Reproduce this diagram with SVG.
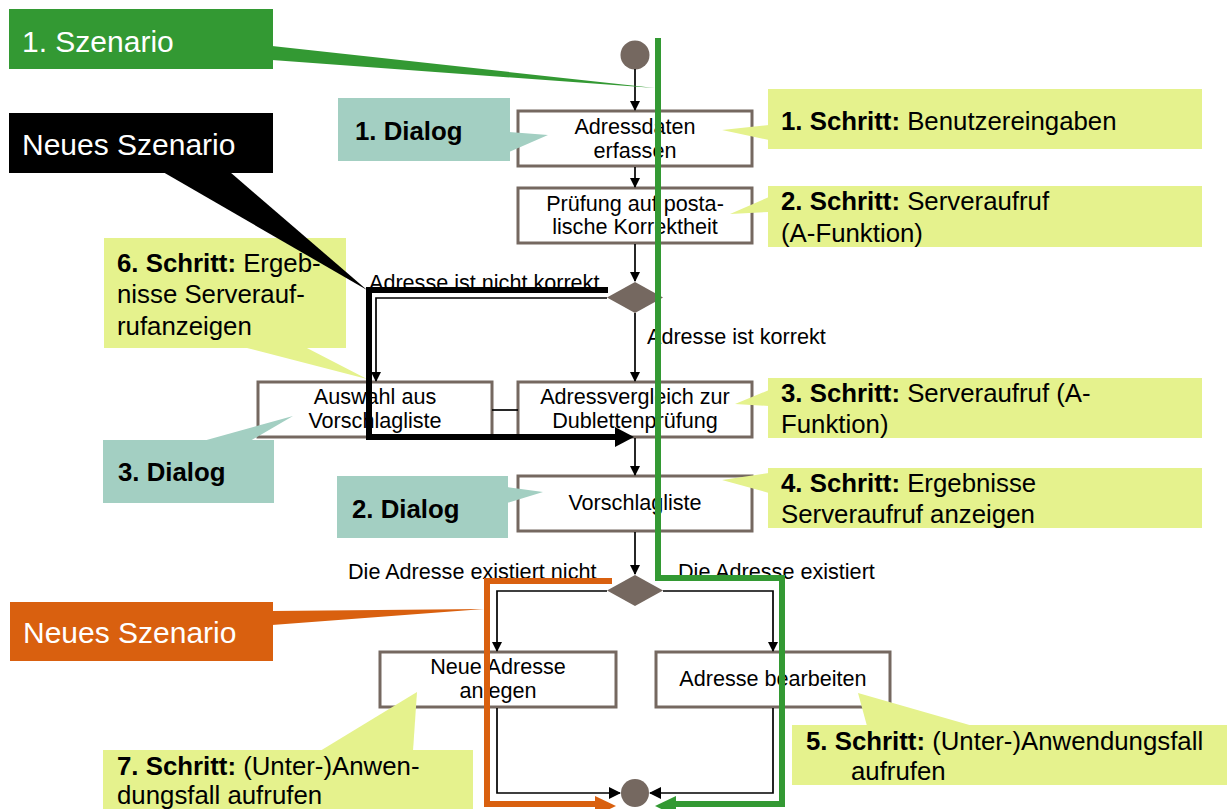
<svg xmlns="http://www.w3.org/2000/svg" width="1228" height="809" viewBox="0 0 1228 809">
  <style>
    .box { fill: #ffffff; stroke: #756860; stroke-width: 3; }
    .t { font-family: "Liberation Sans", Arial, sans-serif; font-size: 21.6px; fill: #000; }
    .c { text-anchor: middle; }
    .ct { font-family: "Liberation Sans", Arial, sans-serif; font-size: 25.8px; fill: #000; }
    .b { font-weight: bold; }
    .big { font-family: "Liberation Sans", Arial, sans-serif; font-size: 30px; fill: #fff; }
    .flow { fill: none; stroke: #000; stroke-width: 1.7; }
    .yel { fill: #e5f28d; }
    .teal { fill: #a3cfc2; }
    .node { fill: #756860; }
  </style>
  <defs>
    <marker id="arr" markerWidth="10" markerHeight="10" refX="9" refY="5" orient="auto" markerUnits="userSpaceOnUse">
      <path d="M0,0 L10,5 L0,10 Z" fill="#000"/>
    </marker>
    <marker id="arrFlow" markerWidth="12" markerHeight="12" refX="11" refY="6" orient="auto" markerUnits="userSpaceOnUse">
      <path d="M0,0 L12,6 L0,12 Z" fill="#000"/>
    </marker>
  </defs>

  <!-- activity nodes -->
  <g id="start"><circle class="node" cx="635" cy="55" r="14.5"/></g>
  <g id="a-erfassen">
    <rect class="box" x="518" y="111" width="234" height="55"/>
    <text class="t c" x="635" y="134">Adressdaten</text>
    <text class="t c" x="635" y="158">erfassen</text>
  </g>
  <g id="a-pruefung">
    <rect class="box" x="518" y="188" width="234" height="55"/>
    <text class="t c" x="635" y="211">Prüfung auf posta-</text>
    <text class="t c" x="635" y="234">lische Korrektheit</text>
  </g>
  <g id="d-korrekt"><polygon class="node" points="635,282 663,297.5 635,313 607,297.5"/></g>
  <g id="a-auswahl">
    <rect class="box" x="258" y="382" width="234" height="55"/>
    <text class="t c" x="375" y="404">Auswahl aus</text>
    <text class="t c" x="375" y="428">Vorschlagliste</text>
  </g>
  <g id="a-vergleich">
    <rect class="box" x="518" y="382" width="234" height="55"/>
    <text class="t c" x="635" y="404">Adressvergleich zur</text>
    <text class="t c" x="635" y="428">Dublettenprüfung</text>
  </g>
  <g id="a-vorschlag">
    <rect class="box" x="518" y="476" width="234" height="55"/>
    <text class="t c" x="635" y="510">Vorschlagliste</text>
  </g>
  <g id="d-existiert"><polygon class="node" points="635,575 663,590.5 635,606 607,590.5"/></g>
  <g id="a-neu">
    <rect class="box" x="380" y="652" width="236" height="55"/>
    <text class="t c" x="498" y="674">Neue Adresse</text>
    <text class="t c" x="498" y="698">anlegen</text>
  </g>
  <g id="a-bearbeiten">
    <rect class="box" x="656" y="652" width="234" height="55"/>
    <text class="t c" x="773" y="686">Adresse bearbeiten</text>
  </g>
  <g id="end"><circle class="node" cx="635" cy="793" r="14"/></g>

  <!-- control flow -->
  <g id="connectors">
    <line class="flow" x1="635" y1="69" x2="635" y2="110" marker-end="url(#arr)"/>
    <line class="flow" x1="635" y1="167" x2="635" y2="187" marker-end="url(#arr)"/>
    <line class="flow" x1="635" y1="244" x2="635" y2="281" marker-end="url(#arr)"/>
    <polyline class="flow" points="607,298 376,298 376,381" marker-end="url(#arr)"/>
    <line class="flow" x1="635" y1="313" x2="635" y2="381" marker-end="url(#arr)"/>
    <line class="flow" x1="492" y1="410" x2="518" y2="410"/>
    <line class="flow" x1="635" y1="438" x2="635" y2="475" marker-end="url(#arr)"/>
    <line class="flow" x1="635" y1="532" x2="635" y2="574" marker-end="url(#arr)"/>
    <polyline class="flow" points="607,591 497,591 497,651" marker-end="url(#arr)"/>
    <polyline class="flow" points="663,591 773,591 773,651" marker-end="url(#arr)"/>
    <polyline class="flow" points="497,708 497,793 620,793" marker-end="url(#arrFlow)"/>
    <polyline class="flow" points="773,708 773,793 650,793" marker-end="url(#arrFlow)"/>
    <text class="t" x="369" y="290">Adresse ist nicht korrekt</text>
    <text class="t" x="647" y="344">Adresse ist korrekt</text>
    <text class="t" x="348" y="579">Die Adresse existiert nicht</text>
    <text class="t" x="678" y="579">Die Adresse existiert</text>
  </g>

  <!-- dialog callouts -->
  <g id="n-dialog1">
    <rect class="teal" x="338" y="98" width="172" height="63"/>
    <polygon class="teal" points="509,132 548,135 509,152"/>
    <text class="ct b" x="355" y="140">1. Dialog</text>
  </g>
  <g id="n-dialog2">
    <rect class="teal" x="337" y="476" width="171" height="62"/>
    <polygon class="teal" points="507,487 543,492 507,503"/>
    <text class="ct b" x="352" y="518">2. Dialog</text>
  </g>
  <g id="n-dialog3">
    <rect class="teal" x="103" y="440" width="171" height="63"/>
    <polygon class="teal" points="203,441 293,416 250,441"/>
    <text class="ct b" x="118" y="481">3. Dialog</text>
  </g>

  <!-- step callouts -->
  <g id="n-schritt1">
    <rect class="yel" x="768" y="89" width="434" height="60"/>
    <polygon class="yel" points="769,125 722,130 769,140"/>
    <text class="ct" x="781" y="130"><tspan class="b">1. Schritt:</tspan> Benutzereingaben</text>
  </g>
  <g id="n-schritt2">
    <rect class="yel" x="768" y="186" width="434" height="61"/>
    <polygon class="yel" points="769,197 730,214 769,212"/>
    <text class="ct" x="781" y="210"><tspan class="b">2. Schritt:</tspan> Serveraufruf</text>
    <text class="ct" x="781" y="242">(A-Funktion)</text>
  </g>
  <g id="n-schritt3">
    <rect class="yel" x="768" y="378" width="434" height="60"/>
    <polygon class="yel" points="769,390 735,404 769,406"/>
    <text class="ct" x="781" y="402"><tspan class="b">3. Schritt:</tspan> Serveraufruf (A-</text>
    <text class="ct" x="781" y="433">Funktion)</text>
  </g>
  <g id="n-schritt4">
    <rect class="yel" x="768" y="468" width="434" height="60"/>
    <polygon class="yel" points="769,473 722,480 769,493"/>
    <text class="ct" x="781" y="492"><tspan class="b">4. Schritt:</tspan> Ergebnisse</text>
    <text class="ct" x="781" y="523">Serveraufruf anzeigen</text>
  </g>
  <g id="n-schritt5">
    <rect class="yel" x="792" y="725" width="435" height="60"/>
    <polygon class="yel" points="858,693 867,726 973,726"/>
    <text class="ct" x="806" y="750"><tspan class="b">5. Schritt:</tspan> (Unter-)Anwendungsfall</text>
    <text class="ct" x="851" y="780">aufrufen</text>
  </g>
  <g id="n-schritt6">
    <rect class="yel" x="104" y="238" width="242" height="110"/>
    <polygon class="yel" points="243,347 367,379 305,347"/>
    <text class="ct" x="117" y="272"><tspan class="b">6. Schritt:</tspan> Ergeb-</text>
    <text class="ct" x="117" y="303">nisse Serverauf-</text>
    <text class="ct" x="117" y="335">rufanzeigen</text>
  </g>
  <g id="n-schritt7">
    <rect class="yel" x="103" y="750" width="370" height="59"/>
    <polygon class="yel" points="320,751 417,692 413,751"/>
    <text class="ct" x="117" y="775"><tspan class="b">7. Schritt:</tspan> (Unter-)Anwen-</text>
    <text class="ct" x="117" y="804">dungsfall aufrufen</text>
  </g>

  <!-- scenario paths -->
  <g id="scenario-main">
    <polyline points="658,38 658,578 782,578 782,804 672,804" fill="none" stroke="#339933" stroke-width="6"/>
    <polygon points="676,796 655,806 676,816" fill="#339933"/>
  </g>
  <g id="scenario-black">
    <polyline points="608,290 369,290 369,437 618,437" fill="none" stroke="#000" stroke-width="6"/>
    <polygon points="615,427 634,437 615,447" fill="#000"/>
  </g>
  <g id="scenario-orange">
    <polyline points="612,581 487,581 487,804 600,804" fill="none" stroke="#d9600f" stroke-width="6"/>
    <polygon points="595,796 616,806 595,816" fill="#d9600f"/>
  </g>

  <!-- scenario labels -->
  <g id="n-szenario1">
    <rect x="9" y="9" width="264" height="60" fill="#339933"/>
    <polygon points="272,46 655,88 272,60" fill="#339933"/>
    <text class="big" x="22" y="52">1. Szenario</text>
  </g>
  <g id="n-neu-black">
    <rect x="9" y="113" width="264" height="60" fill="#000"/>
    <polygon points="163,172 367,290 230,172" fill="#000"/>
    <text class="big" x="22" y="155">Neues Szenario</text>
  </g>
  <g id="n-neu-orange">
    <rect x="10" y="602" width="263" height="59" fill="#d9600f"/>
    <polygon points="272,611 484,609 272,625" fill="#d9600f"/>
    <text class="big" x="23" y="643">Neues Szenario</text>
  </g>
</svg>
